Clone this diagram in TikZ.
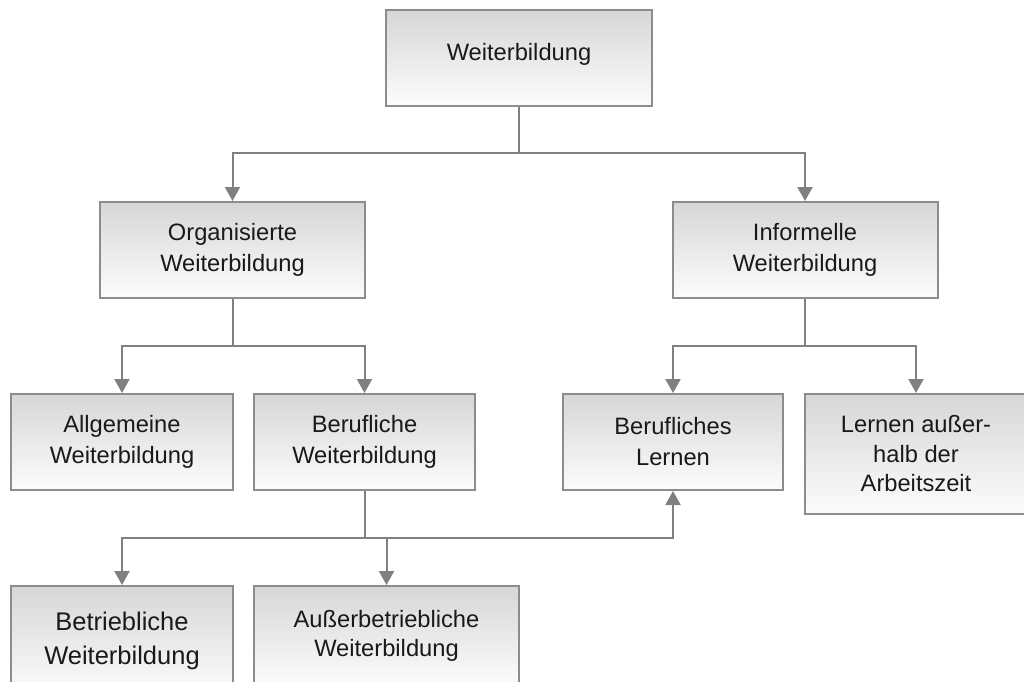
\documentclass[tikz,border=0pt]{standalone}
\usepackage{fontspec}
\setmainfont{Liberation Sans}
\usetikzlibrary{arrows.meta}
\definecolor{boxline}{HTML}{8C8C8C}
\definecolor{connline}{HTML}{808080}
\tikzset{
  box/.style={draw=boxline, line width=2pt, top color=black!16, bottom color=black!1,
    minimum height=96pt, align=center, inner sep=0pt,
    font=\fontsize{23.7}{31}\selectfont, text=black!90},
  conn/.style={draw=connline, line width=2pt},
  arr/.style={conn, -{Triangle[width=15pt,length=14pt]}},
}
\begin{document}
\begin{tikzpicture}[x=1pt,y=-1pt]
\clip (0,0) rectangle (1024,681);
\fill[white] (0,0) rectangle (1024,681);
% boxes
\node[box, minimum width=266pt, text height=12pt, text depth=7pt] (top) at (519,58) {Weiterbildung};
\node[box, minimum width=265pt] (org) at (232.5,250) {Organisierte\\Weiterbildung};
\node[box, minimum width=265pt] (inf) at (805,250) {Informelle\\Weiterbildung};
\node[box, minimum width=222pt] (allg) at (122,442) {Allgemeine\\Weiterbildung};
\node[box, minimum width=221pt] (beruf) at (364.5,442) {Berufliche\\Weiterbildung};
\node[box, minimum width=220pt] (blern) at (673,442) {Berufliches\\Lernen};
\node[box, minimum width=222pt, minimum height=120pt, font=\fontsize{23.7}{29.5}\selectfont] (laus) at (916,454) {Lernen au\ss er-\\halb der\\Arbeitszeit};
\node[box, minimum width=222pt, minimum height=110pt, font=\fontsize{25.5}{34}\selectfont] (betr) at (122,641) {Betriebliche\\Weiterbildung};
\node[box, minimum width=265pt, minimum height=100pt, font=\fontsize{23.7}{29}\selectfont] (ausb) at (386.5,636) {Au\ss erbetriebliche\\Weiterbildung};
% junctions
\coordinate (j1) at (519,153);
\coordinate (j2) at (232.5,346);
\coordinate (j3) at (805,346);
\coordinate (j4) at (364.5,538);
% connectors
\draw[conn] (top.south) -- (j1);
\draw[arr] (j1) -| (org.north);
\draw[arr] (j1) -| (inf.north);
\draw[conn] (org.south) -- (j2);
\draw[arr] (j2) -| (allg.north);
\draw[arr] (j2) -| (beruf.north);
\draw[conn] (inf.south) -- (j3);
\draw[arr] (j3) -| (blern.north);
\draw[arr] (j3) -| (laus.north);
\draw[conn] (beruf.south) -- (j4);
\draw[arr] (j4) -| (betr.north);
\draw[arr] (j4) -| (ausb.north);
\draw[arr] (j4) -| (blern.south);
\end{tikzpicture}
\end{document}
